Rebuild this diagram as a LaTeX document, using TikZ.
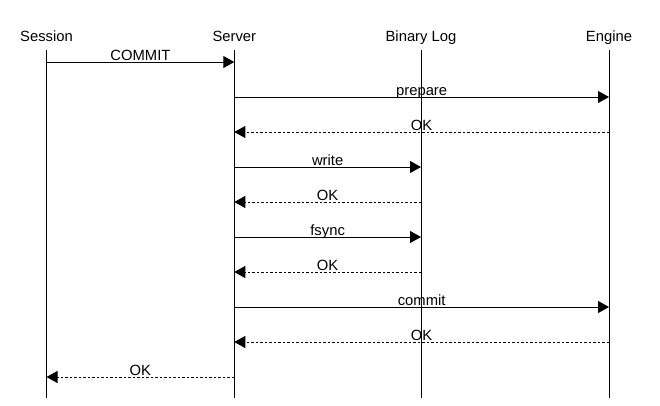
\documentclass[tikz,border=0pt]{standalone}
\usepackage{fontspec}
\setmainfont{Liberation Sans}
\usetikzlibrary{arrows.meta}

\tikzset{
  msg/.style={draw, line width=1bp, -{Triangle[length=11bp,width=12bp]}},
  reply/.style={msg, dash pattern=on 2.5bp off 2bp},
  lbl/.style={anchor=base, yshift=1.7bp, inner sep=0pt}
}

\begin{document}
\begin{tikzpicture}[x=1bp,y=-1bp]

        \useasboundingbox (0,0) rectangle (660,405);

        \begin{scope}[every node/.style={anchor=base, font=\fontsize{14.8bp}{17bp}\selectfont}]
          \node (session) at (46.5,41)  {Session};
          \node (server)  at (234.3,41) {Server};
          \node (binlog)  at (421,41)   {Binary Log};
          \node (engine)  at (609,41)   {Engine};
        \end{scope}

        % lifelines
        \foreach \who in {session,server,binlog,engine}
          \draw[line width=1bp] (\who.base) ++(0,9) -- (\who |- 0,398);

        \begin{scope}[every node/.style={lbl, font=\fontsize{14.8bp}{17bp}\selectfont}]
          \path (session |- 0,62)  edge[msg]   node {COMMIT}  (server |- 0,62);
          \path (server |- 0,97)   edge[msg]   node {prepare} (engine |- 0,97);
          \path (engine |- 0,132)  edge[reply] node {OK}      (server |- 0,132);
          \path (server |- 0,167)  edge[msg]   node {write}   (binlog |- 0,167);
          \path (binlog |- 0,202)  edge[reply] node {OK}      (server |- 0,202);
          \path (server |- 0,237)  edge[msg]   node {fsync}   (binlog |- 0,237);
          \path (binlog |- 0,272)  edge[reply] node {OK}      (server |- 0,272);
          \path (server |- 0,307)  edge[msg]   node {commit}  (engine |- 0,307);
          \path (engine |- 0,342)  edge[reply] node {OK}      (server |- 0,342);
          \path (server |- 0,377)  edge[reply] node {OK}      (session |- 0,377);
        \end{scope}

      \end{tikzpicture}
\end{document}
